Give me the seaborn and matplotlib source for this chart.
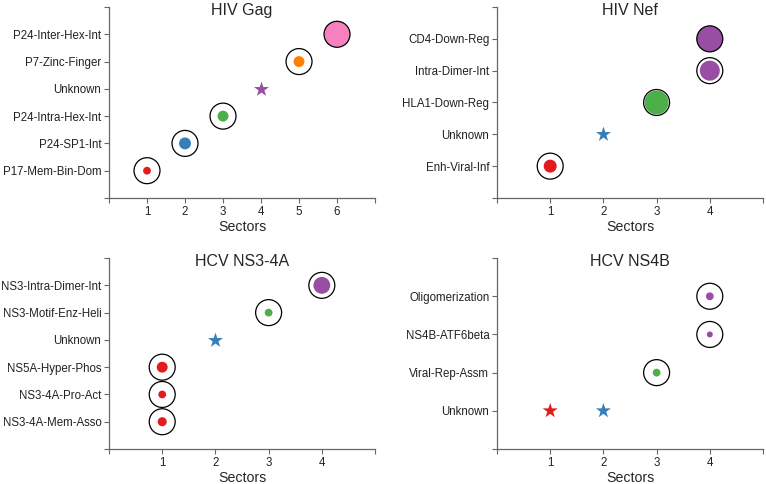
import numpy as np
import pandas as pd
import matplotlib
matplotlib.use("Agg")
import matplotlib.pyplot as plt
import seaborn as sns

sns.set_theme(style="white")
plt.rcParams['font.family'] = ['Liberation Sans', 'DejaVu Sans']

# цвета по секторам (Set1)
SECTOR_COLORS = {1: '#e41a1c', 2: '#377eb8', 3: '#4daf4a',
                 4: '#984ea3', 5: '#ff7f00', 6: '#f781bf'}

# HIV Gag (снизу вверх)
GAG_LABELS = ['P17-Mem-Bin-Dom', 'P24-SP1-Int', 'P24-Intra-Hex-Int',
              'Unknown', 'P7-Zinc-Finger', 'P24-Inter-Hex-Int']
GAG_SECTORS = [1, 2, 3, 4, 5, 6]
GAG_DOT = [0.30, 0.46, 0.42, 0.0, 0.42, 1.0]

# HIV Nef
NEF_LABELS = ['Enh-Viral-Inf', 'Unknown', 'HLA1-Down-Reg',
              'Intra-Dimer-Int', 'CD4-Down-Reg']
NEF_SECTORS = [1, 2, 3, 4, 4]
NEF_DOT = [0.50, 0.0, 0.92, 0.77, 1.0]

# HCV NS3-4A
NS3_LABELS = ['NS3-4A-Mem-Asso', 'NS3-4A-Pro-Act', 'NS5A-Hyper-Phos',
              'Unknown', 'NS3-Motif-Enz-Heli', 'NS3-Intra-Dimer-Int']
NS3_SECTORS = [1, 1, 1, 2, 3, 4]
NS3_DOT = [0.35, 0.30, 0.42, 0.0, 0.30, 0.65]

# HCV NS4B
NS4B_LABELS = ['Unknown', 'Unknown', 'Viral-Rep-Assm',
               'NS4B-ATF6beta', 'Oligomerization']
NS4B_SECTORS = [1, 2, 3, 4, 4]
NS4B_DOT = [0.0, 0.0, 0.30, 0.23, 0.30]

RING = 18.7      # диаметр кольца, pt
STAR_S = 130

PANELS = [
    ('HIV Gag', GAG_LABELS, GAG_SECTORS, GAG_DOT, 7, [0.1423, 0.591, 0.3473, 0.3945]),
    ('HIV Nef', NEF_LABELS, NEF_SECTORS, NEF_DOT, 5, [0.6488, 0.591, 0.3473, 0.3945]),
    ('HCV NS3-4A', NS3_LABELS, NS3_SECTORS, NS3_DOT, 5, [0.1423, 0.0723, 0.3473, 0.3945]),
    ('HCV NS4B', NS4B_LABELS, NS4B_SECTORS, NS4B_DOT, 5, [0.6488, 0.0723, 0.3473, 0.3945]),
]


def draw_panel(fig, title, labels, sectors, dots, xmax, rect):
    ax = fig.add_axes(rect)
    df = pd.DataFrame({'label': labels, 'sector': sectors, 'dot': dots})
    df['area'] = (df['dot'] * RING) ** 2
    df['unknown'] = df['label'] == 'Unknown'
    cats = list(dict.fromkeys(labels))

    known = df[~df['unknown']]
    unk = df[df['unknown']]

    # невидимый проход, чтобы зафиксировать порядок категорий
    ax.scatter(np.zeros(len(cats)), cats, s=0)

    amin, amax = known['area'].min(), known['area'].max()
    sns.scatterplot(data=known, x='sector', y='label', hue='sector', palette=SECTOR_COLORS,
                    size='area', sizes=(amin, amax), size_norm=(amin, amax),
                    linewidth=0, legend=False, ax=ax, zorder=3)
    sns.scatterplot(data=known, x='sector', y='label', s=RING ** 2, facecolor='none',
                    edgecolor='black', linewidth=0.9, legend=False, ax=ax, zorder=4)
    if len(unk):
        sns.scatterplot(data=unk, x='sector', y='label', hue='sector', palette=SECTOR_COLORS,
                        marker='*', s=STAR_S, linewidth=0, legend=False, ax=ax, zorder=3)

    ax.set_xlim(0, xmax)
    ax.set_ylim(-1, len(cats))
    ax.set_xticks(range(0, xmax + 1))
    ax.set_xticklabels([''] + [str(i) for i in range(1, xmax)] + [''])
    ax.set_yticks([-1] + list(range(len(cats))) + [len(cats)])
    ax.set_yticklabels([''] + cats + [''])
    ax.set_xlabel('Sectors', fontsize=10.2, labelpad=2)
    ax.set_ylabel('')
    ax.text(0.5, 1.021, title, transform=ax.transAxes, ha='center', va='top', fontsize=11.5)

    for side in ['top', 'right']:
        ax.spines[side].set_visible(False)
    for side in ['left', 'bottom']:
        ax.spines[side].set_color('#666666')
        ax.spines[side].set_linewidth(0.9)
    ax.tick_params(axis='both', which='both', direction='out', length=3.5, width=0.8,
                   color='#666666', labelsize=8.3, labelcolor='#222222', pad=2,
                   left=True, bottom=True)
    ax.set_facecolor('none')
    return ax


fig = plt.figure(figsize=(7.66, 4.84), dpi=100)
for title, labels, sectors, dots, xmax, rect in PANELS:
    draw_panel(fig, title, labels, sectors, dots, xmax, rect)

fig.savefig('out.png', dpi=100, facecolor='white')
